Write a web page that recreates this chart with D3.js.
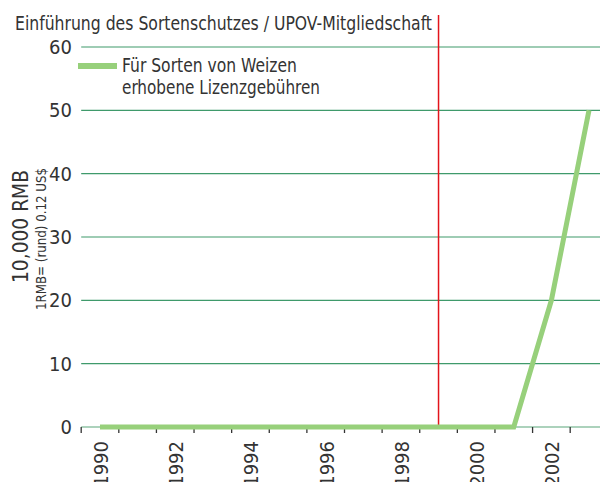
<!DOCTYPE html>
<html>
<head>
<meta charset="utf-8">
<script src="https://cdn.jsdelivr.net/npm/d3@7"></script>
<style>
  body { margin: 0; background: #fff; }
  text { font-family: "DejaVu Sans", sans-serif; font-stretch: condensed; fill: #333; }
</style>
</head>
<body>
<svg id="chart" width="600" height="482"></svg>
<script>
const years = d3.range(1990, 2004);
const fees = [0, 0, 0, 0, 0, 0, 0, 0, 0, 0, 0, 0, 20, 50];
const yTicks = [0, 10, 20, 30, 40, 50, 60];
const xLabels = [1990, 1992, 1994, 1996, 1998, 2000, 2002];
const upovYear = 1999;

const svg = d3.select("#chart");
const width = 600;

// year scale: ticks sit halfway between years
const x = d3.scaleLinear().domain([1990, 2003]).range([100, 589]);
const y = d3.scaleLinear().domain([0, 60]).range([427, 47]);

// horizontal grid
svg.append("g")
  .selectAll("line")
  .data(yTicks.filter(d => d > 0))
  .enter()
  .append("line")
  .attr("x1", x(1989.5))
  .attr("x2", width)
  .attr("y1", d => y(d))
  .attr("y2", d => y(d))
  .attr("stroke", "#3f9a6b")
  .attr("stroke-width", 1.2);

// baseline
svg.append("line")
  .attr("x1", x(1989.5)).attr("x2", width)
  .attr("y1", y(0)).attr("y2", y(0))
  .attr("stroke", "#5aa57a").attr("stroke-width", 1.2);

// y labels
svg.append("g")
  .selectAll("text")
  .data(yTicks)
  .enter()
  .append("text")
  .attr("x", 72)
  .attr("y", d => y(d) + 7)
  .attr("text-anchor", "end")
  .style("font-size", "20px")
  .text(d => d);

// x ticks at half years
const tickYears = d3.range(1989.5, 2003, 1);
svg.append("g")
  .selectAll("line")
  .data(tickYears)
  .enter()
  .append("line")
  .attr("x1", d => x(d)).attr("x2", d => x(d))
  .attr("y1", y(0)).attr("y2", y(0) + 6)
  .attr("stroke", "#333").attr("stroke-width", 1.3);

// x labels
svg.append("g")
  .selectAll("text")
  .data(xLabels)
  .enter()
  .append("text")
  .attr("transform", d => `translate(${x(d) + 8},441) rotate(-90)`)
  .attr("text-anchor", "end")
  .style("font-size", "20px")
  .text(d => d);

// UPOV marker
svg.append("line")
  .attr("x1", x(upovYear)).attr("x2", x(upovYear))
  .attr("y1", 15).attr("y2", y(0))
  .attr("stroke", "#e3141b").attr("stroke-width", 1.5);

// data line
const line = d3.line()
  .x((d, i) => x(years[i]))
  .y(d => y(d));

svg.append("path")
  .datum(fees)
  .attr("d", line)
  .attr("fill", "none")
  .attr("stroke", "#97d07b")
  .attr("stroke-width", 5);

// title
svg.append("text")
  .attr("x", 15).attr("y", 30)
  .style("font-size", "19px")
  .attr("textLength", 417)
  .attr("lengthAdjust", "spacingAndGlyphs")
  .text("Einführung des Sortenschutzes / UPOV-Mitgliedschaft");

// legend
svg.append("line")
  .attr("x1", 78).attr("x2", 117)
  .attr("y1", 66).attr("y2", 66)
  .attr("stroke", "#97d07b").attr("stroke-width", 6);
svg.append("text")
  .attr("x", 122).attr("y", 72)
  .style("font-size", "19px")
  .attr("textLength", 175)
  .attr("lengthAdjust", "spacingAndGlyphs")
  .text("Für Sorten von Weizen");
svg.append("text")
  .attr("x", 122).attr("y", 94)
  .style("font-size", "19px")
  .attr("textLength", 198)
  .attr("lengthAdjust", "spacingAndGlyphs")
  .text("erhobene Lizenzgebühren");

// y axis title
svg.append("text")
  .attr("transform", "translate(28,283) rotate(-90)")
  .style("font-size", "21px")
  .attr("textLength", 113)
  .attr("lengthAdjust", "spacingAndGlyphs")
  .text("10,000 RMB");
svg.append("text")
  .attr("transform", "translate(46,310) rotate(-90)")
  .style("font-size", "14px")
  .attr("textLength", 142)
  .attr("lengthAdjust", "spacingAndGlyphs")
  .text("1RMB= (rund) 0.12 US$");
</script>
</body>
</html>
